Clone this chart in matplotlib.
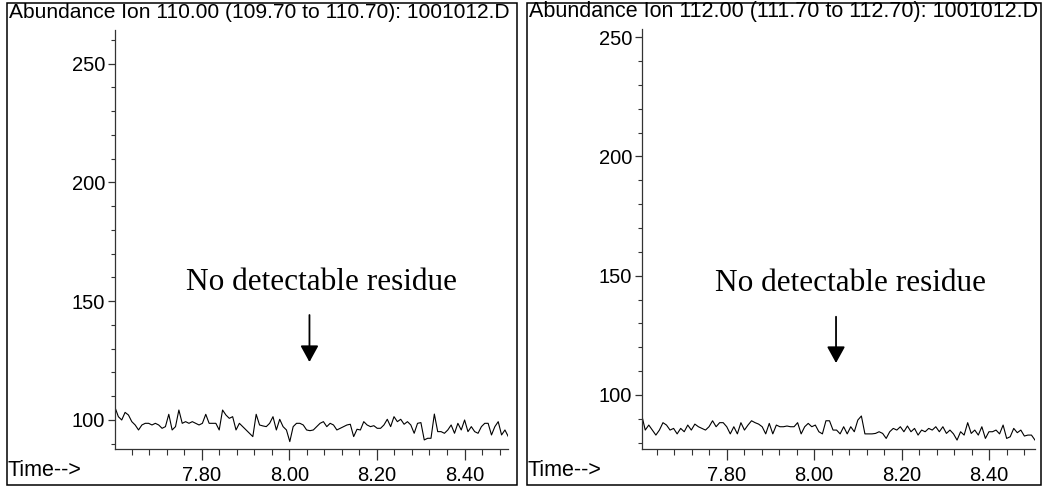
import numpy as np
import matplotlib
matplotlib.use("Agg")
import matplotlib.pyplot as plt
from matplotlib.ticker import MultipleLocator, FixedLocator
from matplotlib.patches import Rectangle

# ion 110 trace (left) and ion 112 trace (right), abundance per scan
ion110 = [105.3, 101.4, 100.0, 103.2, 102.1, 99.3, 97.9, 95.8, 97.9, 98.6,
          98.6, 97.9, 98.6, 97.9, 96.5, 97.2, 102.4, 95.8, 97.2, 104.2,
          98.6, 99.3, 98.6, 99.3, 98.6, 97.9, 98.6, 102.4, 98.6, 98.6,
          98.6, 95.8, 104.2, 102.1, 100.7, 101.4, 95.8, 98.6, 97.2, 95.8,
          94.4, 93.0, 102.4, 97.9, 97.5, 97.2, 98.6, 101.4, 95.8, 100.3,
          97.2, 95.8, 90.9, 97.2, 98.6, 98.6, 97.9,
          95.8, 95.5, 95.8, 97.2, 98.6, 99.3, 97.2, 98.6, 97.9, 95.8,
          96.5, 97.2, 97.9, 98.2, 93.0, 96.1, 95.8, 99.3, 97.9, 97.2,
          97.6, 96.5, 96.5, 97.9, 100.3, 97.2, 101.4, 99.3, 100.3, 98.2,
          99.3, 97.9, 94.4, 98.6, 98.9, 91.6, 92.3, 92.3, 102.5, 95.1,
          95.1, 94.4, 95.8, 97.9, 94.4, 98.6, 95.8, 100.0, 95.1, 97.2,
          95.1, 94.4, 97.2, 98.6, 98.6, 93.7, 97.2, 99.3, 93.7, 95.8, 93.0]

ion112 = [91.6, 85.3, 87.4, 85.3, 83.2, 85.3, 88.4, 87.4, 85.3, 86.0,
          83.7, 86.0, 84.6, 87.4, 85.3, 87.8, 86.7, 86.0, 85.3, 86.7,
          89.2, 86.7, 88.4, 88.4, 86.7, 83.7, 86.7, 83.7, 88.4, 85.3,
          87.4, 89.2, 88.4, 87.8, 86.7, 83.7, 88.1, 83.7, 87.4, 86.7,
          86.7, 87.0, 86.7, 86.7, 88.4, 83.7, 86.7, 88.1, 86.7, 87.4,
          84.6, 83.7, 89.2, 89.2, 85.3, 85.3, 83.7, 86.7, 83.7, 86.7,
          84.6, 89.5, 91.2, 83.7, 83.7, 83.7, 83.9, 84.6, 83.9, 81.8,
          84.6, 86.0, 85.3, 86.7, 84.6, 87.0, 84.6, 86.0, 83.2, 85.3,
          84.6, 86.0, 85.3, 86.7, 84.6, 86.7, 83.9, 85.3, 83.7, 81.1,
          84.6, 83.2, 88.4, 83.9, 85.3, 83.2, 86.7, 81.8, 84.6, 84.6,
          85.3, 83.7, 87.4, 81.8, 82.5, 86.0, 84.2, 85.3, 82.8, 83.2,
          83.2, 81.1]

titles = ["Abundance Ion 110.00 (109.70 to 110.70): 1001012.D",
          "Abundance Ion 112.00 (111.70 to 112.70): 1001012.D"]
scan_range = [(7.602, 8.50), (7.6056, 8.505)]
ylims = [(87.66, 264.2), (77.24, 253.4)]
x_major = [7.80, 8.00, 8.20, 8.40]
y_major = [100, 150, 200, 250]
note = "No detectable residue"
note_xy = [(8.074, 157.7), (8.084, 146.9)]
arrow_xy = [(8.046, 144.2, 124.4), (8.050, 132.8, 113.4)]

W, H = 1045, 487
fig = plt.figure(figsize=(W / 100, H / 100), dpi=100)

panel_left = [7, 527]     # frame left edge, px
panel_right = [517, 1041]
axes_x = [(115, 508.3), (641.7, 1035)]
axes_y = [(30, 449.3), (29, 449.3)]
title_size = [15.1, 15.5]

for i in range(2):
    # outer frame
    fig.patches.append(Rectangle((panel_left[i] / W, 2 / H),
                                 (panel_right[i] - panel_left[i]) / W, 482 / H,
                                 transform=fig.transFigure, fill=False,
                                 edgecolor="black", linewidth=1.1))
    x0, x1 = axes_x[i]
    ytop, ybot = axes_y[i]
    ax = fig.add_axes([x0 / W, (H - ybot) / H, (x1 - x0) / W, (ybot - ytop) / H])
    ax.patch.set_alpha(0)

    vals = ion110 if i == 0 else ion112
    t = np.linspace(scan_range[i][0], scan_range[i][1], len(vals))
    ax.plot(t, vals, color="black", linewidth=0.8)

    ax.set_xlim(scan_range[i])
    ax.set_ylim(ylims[i])
    for s in ["top", "right"]:
        ax.spines[s].set_visible(False)
    for s in ["left", "bottom"]:
        ax.spines[s].set_color("#333333")
        ax.spines[s].set_linewidth(0.9)

    ax.xaxis.set_major_locator(FixedLocator(x_major))
    ax.xaxis.set_minor_locator(MultipleLocator(0.04))
    ax.set_xticklabels([f"{v:.2f}" for v in x_major])
    ax.yaxis.set_major_locator(FixedLocator(y_major))
    ax.yaxis.set_minor_locator(MultipleLocator(10))
    ax.set_yticklabels([str(v) for v in y_major])
    ax.tick_params(axis="x", which="major", length=8, width=0.9, pad=4,
                   labelsize=14.5, color="#333333")
    ax.tick_params(axis="x", which="minor", length=4, width=0.8, color="#333333")
    ax.tick_params(axis="y", which="major", length=5, width=0.9, pad=2,
                   labelsize=14.5, color="#333333")
    ax.tick_params(axis="y", which="minor", length=3, width=0.8, color="#333333")
    for lab in ax.get_xticklabels() + ax.get_yticklabels():
        lab.set_fontfamily("Liberation Sans")

    ax.text(note_xy[i][0], note_xy[i][1], note, ha="center", va="center",
            fontsize=22.5, family="Liberation Serif")
    ax_x, ay0, ay1 = arrow_xy[i]
    ax.annotate("", xy=(ax_x, ay1), xytext=(ax_x, ay0),
                arrowprops=dict(arrowstyle="-|>,head_length=1.0,head_width=0.55",
                                color="black", lw=1.3, shrinkA=0, shrinkB=0))

    # header and footer text
    fig.text((panel_left[i] + 2) / W, 1 - 12 / H, titles[i], ha="left",
             va="center", fontsize=title_size[i], family="Liberation Sans")
    fig.text((panel_left[i] + 1) / W, 1 - 471 / H, "Time-->", ha="left",
             va="center", fontsize=15.5, family="Liberation Sans")

fig.savefig("out.png", dpi=100)
